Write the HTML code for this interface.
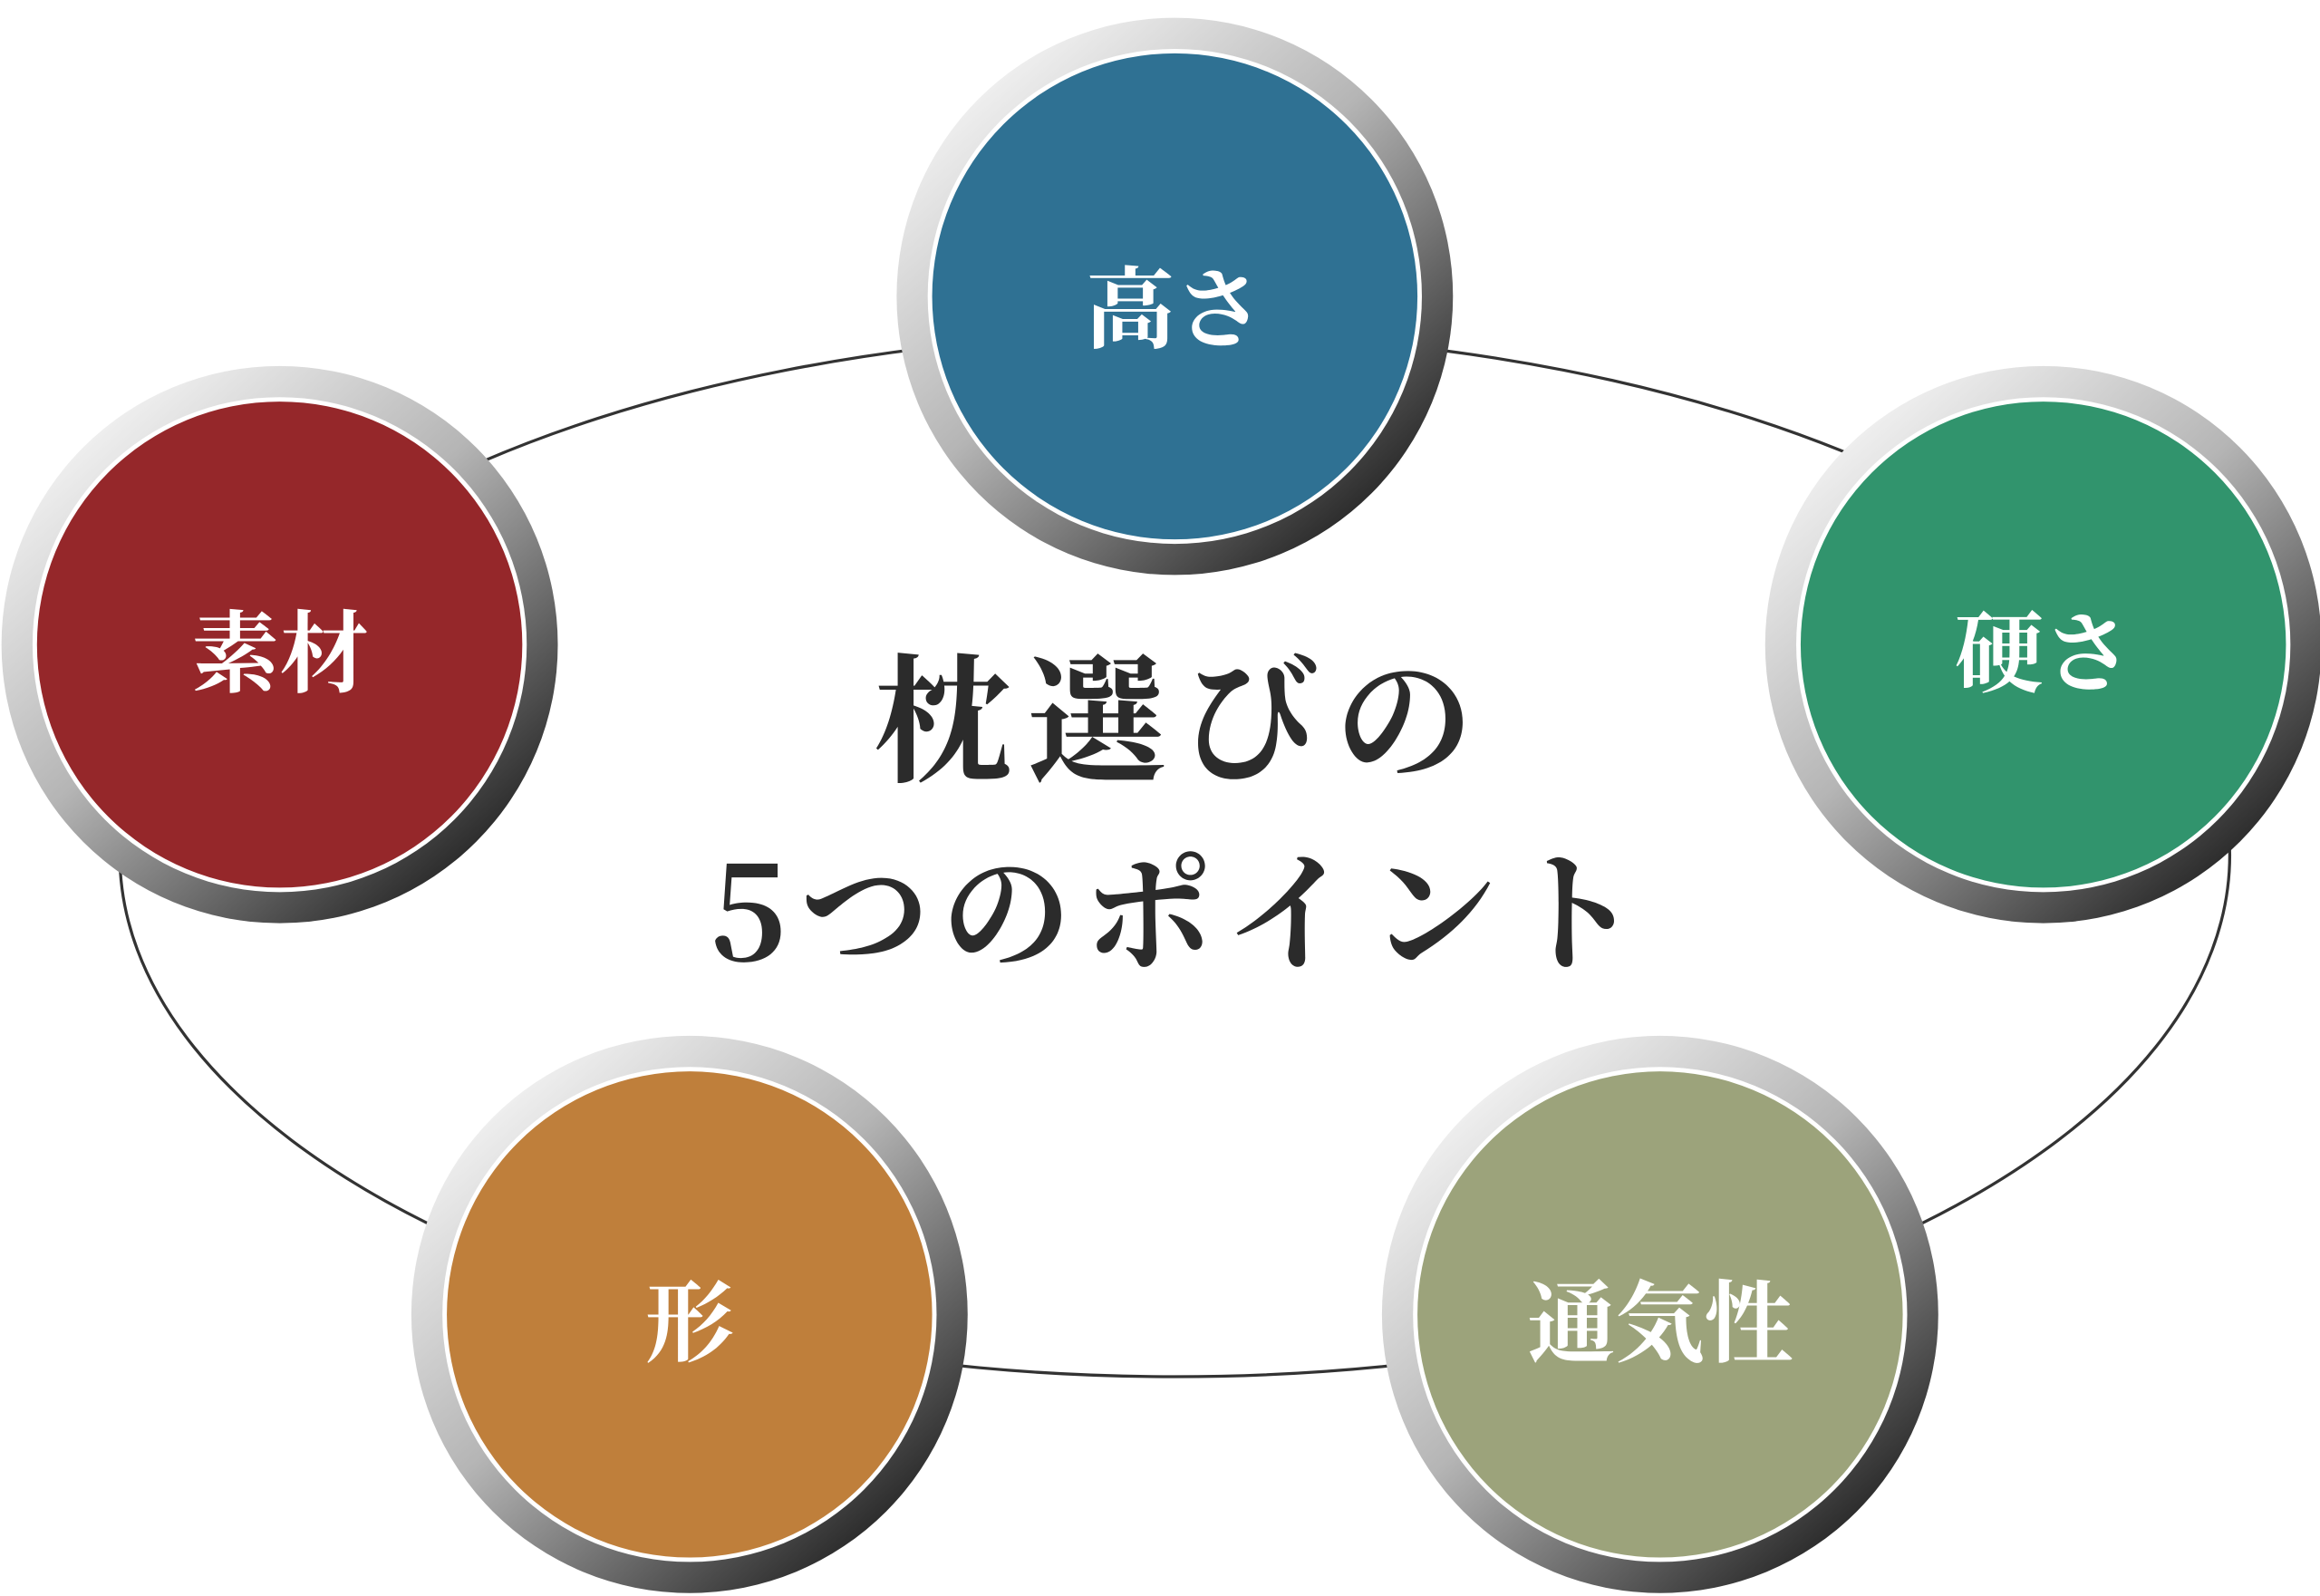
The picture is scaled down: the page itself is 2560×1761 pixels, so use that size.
<!DOCTYPE html>
<html><head><meta charset="utf-8"><style>
html,body{margin:0;padding:0;background:#fff;}
svg{display:block;}
</style></head><body>
<svg width="2560" height="1761" viewBox="0 0 1568 1077" preserveAspectRatio="none" xmlns="http://www.w3.org/2000/svg">
<defs>
<linearGradient id="ring" x1="0.15" y1="0.1" x2="0.85" y2="0.9">
<stop offset="0" stop-color="#f2f2f2"/>
<stop offset="0.45" stop-color="#b5b5b5"/>
<stop offset="0.8" stop-color="#5a5a5a"/>
<stop offset="1" stop-color="#262626"/>
</linearGradient>
</defs>
<ellipse cx="794" cy="577" rx="713" ry="352" fill="none" stroke="#333" stroke-width="2"/>
<g font-family="'Noto Serif CJK JP','Noto Serif CJK SC',serif" font-weight="bold">
<g>
<circle cx="794" cy="200" r="188" fill="url(#ring)"/>
<circle cx="794" cy="200" r="167" fill="#fff"/>
<circle cx="794" cy="200" r="164" fill="#2f7193"/>
<text x="794" y="230" font-size="60" fill="#fff" text-anchor="middle">高さ</text>
</g>
<g>
<circle cx="189" cy="435" r="188" fill="url(#ring)"/>
<circle cx="189" cy="435" r="167" fill="#fff"/>
<circle cx="189" cy="435" r="164" fill="#95272a"/>
<text x="189" y="462" font-size="60" fill="#fff" text-anchor="middle">素材</text>
</g>
<g>
<circle cx="1381" cy="435" r="188" fill="url(#ring)"/>
<circle cx="1381" cy="435" r="167" fill="#fff"/>
<circle cx="1381" cy="435" r="164" fill="#31946d"/>
<text x="1381" y="462" font-size="60" fill="#fff" text-anchor="middle">硬さ</text>
</g>
<g>
<circle cx="466" cy="887" r="188" fill="url(#ring)"/>
<circle cx="466" cy="887" r="167" fill="#fff"/>
<circle cx="466" cy="887" r="164" fill="#bf7f3b"/>
<text x="466" y="914" font-size="60" fill="#fff" text-anchor="middle">形</text>
</g>
<g>
<circle cx="1122" cy="887" r="188" fill="url(#ring)"/>
<circle cx="1122" cy="887" r="167" fill="#fff"/>
<circle cx="1122" cy="887" r="164" fill="#9ca37b"/>
<text x="1122" y="914" font-size="60" fill="#fff" text-anchor="middle">通気性</text>
</g>
<text x="798" y="520" font-size="94" fill="#2b2b2b" text-anchor="middle" letter-spacing="10">枕選びの</text>
<text x="798" y="648" font-size="88" fill="#2b2b2b" text-anchor="middle" letter-spacing="8">5つのポイント</text>
</g>
</svg>
</body></html>
